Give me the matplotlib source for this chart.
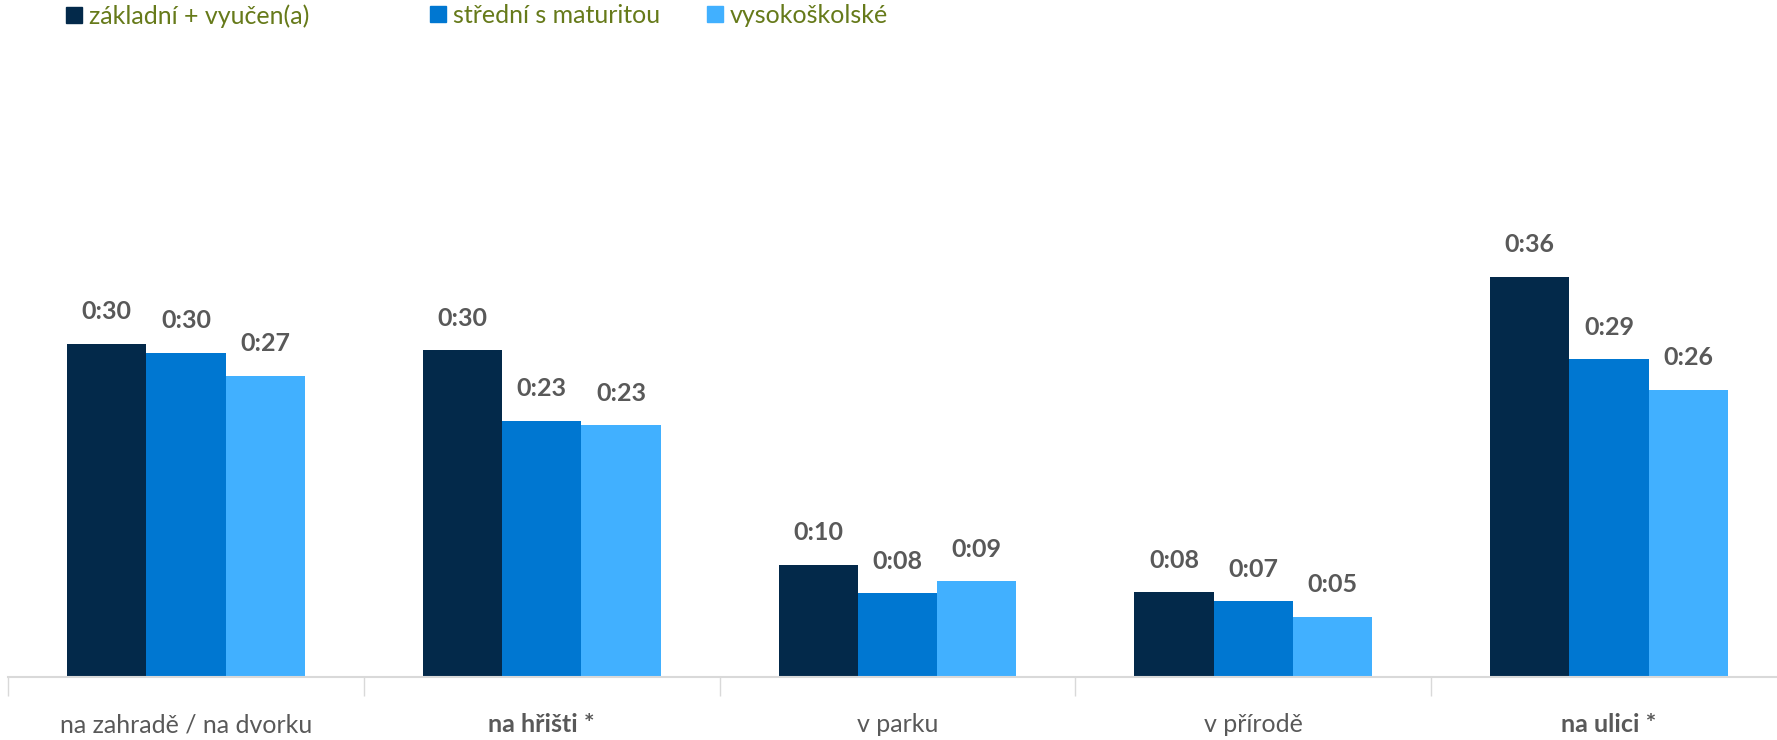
import numpy as np
import matplotlib.pyplot as plt
from matplotlib.patches import Patch

plt.rcParams['font.family'] = ['Lato', 'DejaVu Sans']

categories = ["na zahradě / na dvorku", "na hřišti *", "v parku", "v přírodě", "na ulici *"]
bold_cats = [False, True, False, False, True]
series = ["základní + vyučen(a)", "střední s maturitou", "vysokoškolské"]
# minutes
zakladni = [30.3, 29.7, 10.2, 7.7, 36.4]
stredni = [29.5, 23.3, 7.6, 6.9, 28.9]
vysoko = [27.4, 22.9, 8.7, 5.5, 26.1]
lbl_zakladni = ["0:30", "0:30", "0:10", "0:08", "0:36"]
lbl_stredni = ["0:30", "0:23", "0:08", "0:07", "0:29"]
lbl_vysoko = ["0:27", "0:23", "0:09", "0:05", "0:26"]
colors = ["#03294a", "#0077d1", "#41b0ff"]

W, H = 1777, 740
fig = plt.figure(figsize=(W / 100, H / 100), dpi=100)
ax = fig.add_axes([8 / W, (H - 677) / H, (W - 8) / W, (677 - 61) / H])

x = np.arange(len(categories))
bw = 70 / 314
values = [zakladni, stredni, vysoko]
labels = [lbl_zakladni, lbl_stredni, lbl_vysoko]
for i, (vals, lbls) in enumerate(zip(values, labels)):
    pos = x + (i - 1) * bw
    ax.bar(pos, vals, width=bw, color=colors[i], zorder=2)
    for p, v, t in zip(pos, vals, lbls):
        ax.annotate(t, (p, v), xytext=(0, 32), textcoords="offset pixels",
                    ha="center", va="center", fontsize=18, fontweight="bold",
                    color="#595959")

ax.set_xlim(-0.5, 4.5 - 10 / 356)
ax.set_ylim(0, 56)
for s in ["top", "right", "left"]:
    ax.spines[s].set_visible(False)
ax.spines["bottom"].set_color("#d9d9d9")
ax.spines["bottom"].set_linewidth(1.5)
ax.set_yticks([])
ax.set_xticks(np.arange(-0.5, 4.5, 1))
ax.set_xticklabels([])
ax.tick_params(axis="x", length=14, color="#d9d9d9", width=1, direction="out")
ax.set_xticks(x, minor=True)
ax.set_xticklabels(categories, minor=True)
ax.tick_params(axis="x", which="minor", length=0, pad=26, labelsize=18, labelcolor="#595959")
for t, b in zip(ax.get_xticklabels(minor=True), bold_cats):
    if b:
        t.set_fontweight("bold")

# legend entries placed individually (x in px of the full figure)
leg_x = [66, 430, 707]
for name, c, lx in zip(series, colors, leg_x):
    leg = fig.legend(handles=[Patch(color=c, label=name)], loc="upper left",
                     bbox_to_anchor=(lx / W, 1 - 4 / H),
                     frameon=False, fontsize=18, handlelength=0.62, handleheight=0.62,
                     handletextpad=0.3, borderaxespad=0, borderpad=0)
    for t in leg.get_texts():
        t.set_color("#667a1a")

fig.savefig("out.png", dpi=100)
